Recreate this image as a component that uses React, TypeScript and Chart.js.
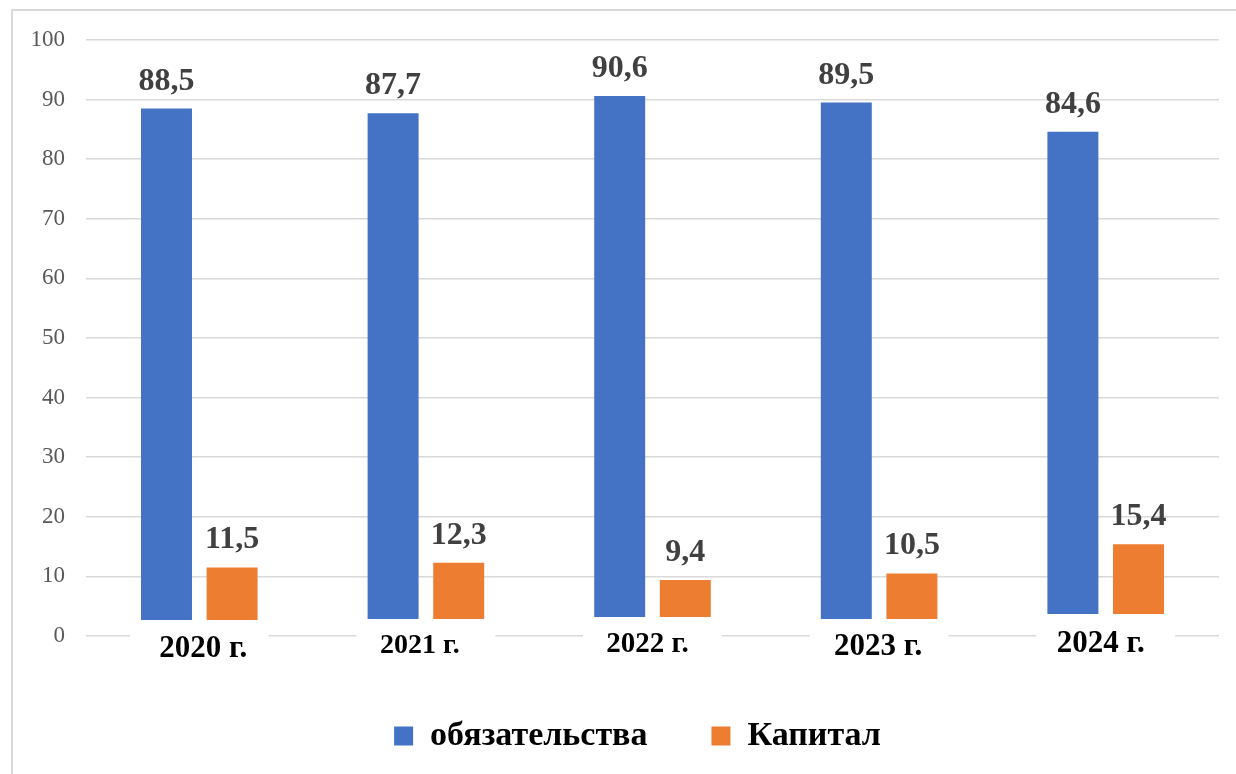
import { useEffect, useRef } from "react";
import { Chart, registerables } from "chart.js";

Chart.register(...registerables);

// ---- data ----
const categories = ["2020 г.", "2021 г.", "2022 г.", "2023 г.", "2024 г."];
const liabilities = [88.5, 87.7, 90.6, 89.5, 84.6];
const capital = [11.5, 12.3, 9.4, 10.5, 15.4];
const seriesNames = ["обязательства", "Капитал"];
const yMin = 0;
const yMax = 100;
const yStep = 10;

// ---- style (per category label look) ----
const labelFontSizes = [31, 28, 29, 31, 31];
const labelLift = [16, 17, 19, 17, 22];
const labelDy = [13, 10, 9, 11, 8];
const labelDx = [4, -6, -5, -1, -5];

const SERIF = "'Liberation Serif', 'Times New Roman', serif";
const fmt = (v: number) => v.toFixed(1).replace(".", ",");

const overlayPlugin = {
  id: "overlay",
  beforeDraw(chart: any) {
    const ctx = chart.ctx;
    ctx.save();
    ctx.strokeStyle = "#d9d9d9";
    ctx.lineWidth = 2;
    ctx.beginPath();
    ctx.moveTo(12, chart.height);
    ctx.lineTo(12, 10);
    ctx.lineTo(chart.width, 10);
    ctx.stroke();
    ctx.restore();
  },
  afterDatasetsDraw(chart: any) {
    const ctx = chart.ctx;
    const xs = chart.scales.x;
    const ys = chart.scales.y;
    ctx.save();
    // value labels
    ctx.fillStyle = "#404040";
    ctx.font = `bold 32px ${SERIF}`;
    ctx.textAlign = "center";
    ctx.textBaseline = "alphabetic";
    chart.data.datasets.forEach((ds: any, di: number) => {
      const meta = chart.getDatasetMeta(di);
      meta.data.forEach((bar: any, i: number) => {
        ctx.fillText(fmt(ds.data[i]), bar.x, bar.y - 19);
      });
    });
    // category labels on white boxes
    const base = ys.getPixelForValue(0);
    categories.forEach((c, i) => {
      const cx = xs.getPixelForValue(i);
      ctx.fillStyle = "#ffffff";
      ctx.fillRect(cx - 69.5, base - labelLift[i], 139, 46 + labelLift[i]);
      ctx.fillStyle = "#000000";
      ctx.font = `bold ${labelFontSizes[i]}px ${SERIF}`;
      ctx.textBaseline = "middle";
      ctx.fillText(c, cx + labelDx[i], base + labelDy[i]);
    });
    ctx.restore();
  },
};

export default function App() {
  const ref = useRef<HTMLCanvasElement | null>(null);

  useEffect(() => {
    if (!ref.current) return;
    const chart = new Chart(ref.current, {
      type: "bar",
      data: {
        labels: categories,
        datasets: [
          {
            label: seriesNames[0],
            data: liabilities,
            backgroundColor: "#4472C4",
            borderWidth: 0,
          },
          {
            label: seriesNames[1],
            data: capital,
            backgroundColor: "#ED7D31",
            borderWidth: 0,
          },
        ],
      },
      options: {
        animation: false,
        responsive: false,
        maintainAspectRatio: false,
        datasets: {
          bar: { categoryPercentage: 0.579, barPercentage: 0.777 },
        },
        layout: { padding: { top: 40, left: 56, right: 17, bottom: 11 } },
        plugins: {
          tooltip: { enabled: false },
          legend: {
            position: "bottom",
            labels: {
              color: "#000000",
              font: { family: SERIF, size: 34, weight: "bold" },
              boxWidth: 19,
              boxHeight: 19,
              padding: 64,
            },
          },
        },
        scales: {
          x: {
            grid: { display: false },
            border: { display: false },
            ticks: { display: false },
            afterFit: (s: any) => {
              s.height = 19;
            },
          },
          y: {
            min: yMin,
            max: yMax,
            grid: { color: "#d9d9d9", lineWidth: 1.5, drawTicks: false },
            border: { display: false },
            ticks: {
              stepSize: yStep,
              mirror: true,
              crossAlign: "far",
              padding: -55.5,
              color: "#595959",
              font: { family: SERIF, size: 23 },
            },
            afterFit: (s: any) => {
              s.width = 30;
            },
          },
        },
      },
      plugins: [overlayPlugin],
    });
    return () => chart.destroy();
  }, []);

  return (
    <div style={{ position: "fixed", left: 0, top: 0, width: 1236, height: 774, background: "#fff" }}>
      <canvas ref={ref} width={1236} height={774} style={{ display: "block" }} />
    </div>
  );
}
